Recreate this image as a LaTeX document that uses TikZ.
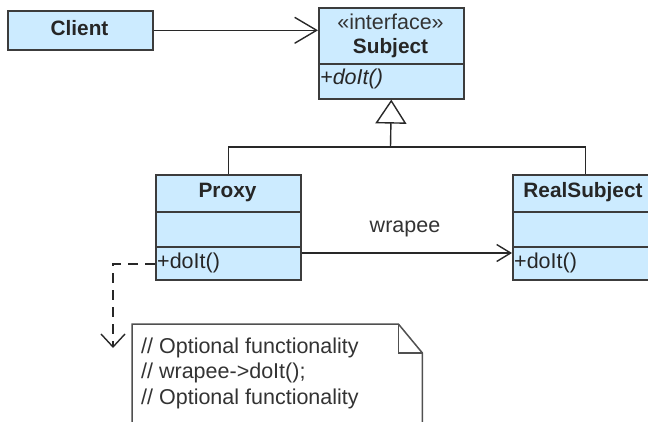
\documentclass[tikz,border=0pt]{standalone}
\usepackage{fontspec}
\setmainfont{Liberation Sans}
\usetikzlibrary{arrows.meta}
\definecolor{classfill}{RGB}{204,235,255}
\definecolor{edgegray}{RGB}{60,60,60}
\definecolor{linegray}{RGB}{40,40,40}
\definecolor{notegray}{RGB}{80,80,80}
\begin{document}
\begin{tikzpicture}[x=1pt,y=-1pt,
  font=\fontsize{21.5}{25}\selectfont,
  classbox/.style={draw=edgegray, fill=classfill, line width=1.6pt, inner sep=0pt, anchor=north west},
  divider/.style={draw=edgegray, line width=1.6pt},
  title/.style={font=\fontsize{20.8}{25}\selectfont\bfseries, anchor=base, text=black!85, inner sep=0pt},
  member/.style={anchor=base west, text=black!85, inner sep=0pt},
  conn/.style={draw=linegray, line width=1.4pt},
  notetext/.style={anchor=base west, text=black!80, inner sep=0pt}]
\useasboundingbox (0,0) rectangle (648,421);

% Client
\node[classbox, minimum width=145pt, minimum height=39pt] (client) at (7,10) {};
\node[title] (clientlbl) at (79.5,35) {Client};

% Subject
\node[classbox, minimum width=145pt, minimum height=91pt] (subject) at (318,7) {};
\draw[divider] (subject.west |- 0,64) -- (subject.east |- 0,64);
\node[anchor=base, text=black!80, inner sep=0pt] (stereo) at (390.5,29) {«interface»};
\node[title] (subjectlbl) at (390.5,53) {Subject};
\node[member, font=\fontsize{21.5}{25}\selectfont\itshape] (subjectop) at (320,84) {+doIt()};

% Proxy
\node[classbox, minimum width=145pt, minimum height=105pt] (proxy) at (155,174) {};
\draw[divider] (proxy.west |- 0,212) -- (proxy.east |- 0,212);
\draw[divider] (proxy.west |- 0,247) -- (proxy.east |- 0,247);
\node[title] (proxylbl) at (227.5,197) {Proxy};
\node[member] (proxyop) at (157,268) {+doIt()};

% RealSubject
\node[classbox, minimum width=145pt, minimum height=105pt] (real) at (512,174) {};
\draw[divider] (real.west |- 0,212) -- (real.east |- 0,212);
\draw[divider] (real.west |- 0,247) -- (real.east |- 0,247);
\node[title] (reallbl) at (583,197) {RealSubject};
\node[member] (realop) at (514,268) {+doIt()};

% Client -> Subject
\draw[conn, -{Straight Barb[length=22pt,width=26pt,line width=1.4pt]}] (client.east) -- (subject.west |- client.east);

% Generalization
\coordinate (junction) at (390.5,147);
\draw[conn] (proxy.north) |- (junction) -| (real.north);
\draw[conn, -{Triangle[open, length=24pt, width=31pt, line width=1.4pt, fill=white]}] (junction) -- (subject.south);

% Association
\draw[conn, -{Straight Barb[length=14pt,width=17pt,line width=1.4pt]}] (proxy.east |- 0,253) -- (real.west |- 0,253);
\node[anchor=base, text=black!80, inner sep=0pt] (wrapee) at (405,232) {wrapee};

% Note
\node[inner sep=0pt, minimum width=290pt, minimum height=106pt, anchor=north west] (note) at (132,324) {};
\draw[draw=notegray, line width=1.5pt, fill=white]
  (note.north west) -- ([xshift=-24pt]note.north east) -- ([yshift=-29pt]note.north east)
  -- (note.south east) -- (note.south west) -- cycle;
\draw[draw=notegray, line width=1.5pt]
  ([xshift=-24pt]note.north east) -- ([xshift=-24pt,yshift=-29pt]note.north east) -- ([yshift=-29pt]note.north east);
\node[notetext] (n1) at (141,353) {// Optional functionality};
\node[notetext] (n2) at (141,378.5) {// wrapee->doIt();};
\node[notetext] (n3) at (141,404) {// Optional functionality};

% Dashed link to note
\coordinate (noteptr) at (113,348);
\draw[conn, dash pattern=on 10pt off 7pt, -{Straight Barb[length=13pt,width=24pt,line width=1.4pt]}] (proxy.west |- 0,264) -| (noteptr);
\end{tikzpicture}
\end{document}
